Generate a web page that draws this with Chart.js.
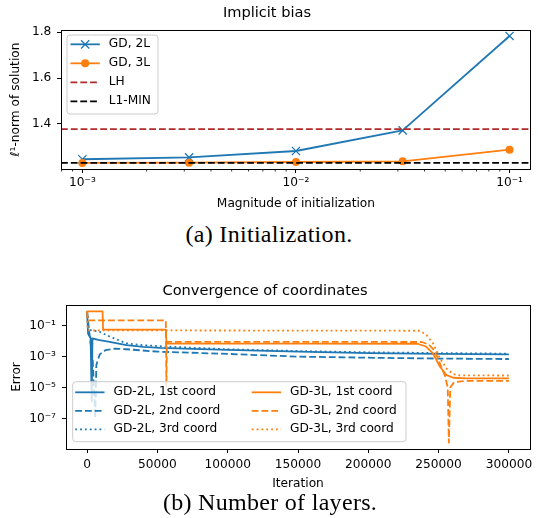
<!DOCTYPE html>
<html>
<head>
<meta charset="utf-8">
<script src="https://cdn.jsdelivr.net/npm/chart.js@4.4.0/dist/chart.umd.min.js"></script>
<style>
  body { margin: 0; background: #fff; width: 538px; height: 518px; position: relative; overflow: hidden; }
  canvas { position: absolute; left: 0; }
  #biasChart { top: 0; }
  #convChart { top: 275px; }
  .caption { position: absolute; font-family: 'Liberation Serif', serif; font-size: 24px; letter-spacing: 0.3px;
             color: #000; white-space: nowrap; transform: translateX(-50%); line-height: 1; }
</style>
</head>
<body>
<canvas id="biasChart" width="538" height="215"></canvas>
<div class="caption" style="left:269px; top:222px">(a) Initialization.</div>
<canvas id="convChart" width="538" height="220"></canvas>
<div class="caption" style="left:270px; top:490px">(b) Number of layers.</div>
<script>
// (a) implicit bias
const initScales = [0.001, 0.00316, 0.01, 0.0316, 0.1];
const normGD2L = [1.245, 1.253, 1.281, 1.371, 1.784];
const normGD3L = [1.229, 1.230, 1.233, 1.236, 1.287];
const normLH = 1.377;
const normL1Min = 1.229;
const biasXTicks = [0.001, 0.01, 0.1];
const biasYTicks = [1.4, 1.6, 1.8];

// (b) convergence of coordinates, error per iteration
const it2L1 = [0, 700, 2500, 3300, 3800, 8000, 16000, 28000, 40000, 52000, 75000, 100000, 150000, 200000, 250000, 300000];
const err2L1 = [0.85, 0.03, 0.016, 1.3e-6, 0.015, 0.012, 0.009, 0.0055, 0.0043, 0.0037, 0.0032, 0.0027, 0.0021, 0.0017, 0.0015, 0.0014];
const it2L2 = [0, 1500, 4000, 5800, 6600, 9000, 13000, 20000, 28000, 50000, 100000, 150000, 200000, 250000, 300000];
const err2L2 = [0.85, 0.04, 6e-4, 1.1e-7, 3e-4, 1.4e-3, 2.6e-3, 3.3e-3, 3.0e-3, 2.1e-3, 1.5e-3, 1.0e-3, 8.5e-4, 7.5e-4, 7e-4];
const it2L3 = [0, 1000, 3000, 9000, 16000, 28000, 40000, 55000, 100000, 150000, 200000, 250000, 300000];
const err2L3 = [0.85, 0.06, 0.05, 0.04, 0.02, 0.0072, 0.0055, 0.0045, 0.003, 0.0023, 0.0019, 0.0017, 0.00155];
const it3L1 = [0, 11000, 11400, 56000, 56500, 150000, 235000, 241000, 246000, 251000, 255700, 260400, 270000, 300000];
const err3L1 = [0.85, 0.85, 0.055, 0.055, 0.007, 0.007, 0.0068, 0.0045, 0.0016, 2.2e-4, 6.3e-5, 4.3e-5, 3.9e-5, 3.9e-5];
const it3L2 = [0, 400, 56000, 56400, 56800, 150000, 238000, 243000, 247000, 251000, 254500, 256500, 257300, 258300, 261000, 270000, 300000];
const err3L2 = [0.85, 0.22, 0.22, 1.2e-5, 0.0091, 0.009, 0.0088, 0.006, 0.0025, 3.5e-4, 6e-5, 1e-5, 2.8e-9, 1e-5, 2.2e-5, 2.7e-5, 2.7e-5];
const it3L3 = [0, 500, 236700, 241400, 246100, 251000, 255600, 260400, 265000, 300000];
const err3L3 = [0.85, 0.05, 0.047, 0.025, 0.007, 7.6e-4, 1.7e-4, 7.4e-5, 6.2e-5, 6e-5];
const convXTicks = [0, 50000, 100000, 150000, 200000, 250000, 300000];
const convYTicks = [1e-7, 1e-5, 1e-3, 1e-1];

const BLUE = '#1f77b4', ORANGE = '#ff7f0e', BROWN = '#b22b2b';
const DASH = [6.8, 3], DOT = [1.85, 3];

Chart.defaults.font.family = "'DejaVu Sans', sans-serif";
Chart.defaults.font.size = 12.2;
Chart.defaults.color = '#000';

const SUP = {'-': '\u207b', '0': '\u2070', '1': '\u00b9', '2': '\u00b2', '3': '\u00b3', '4': '\u2074',
             '5': '\u2075', '6': '\u2076', '7': '\u2077', '8': '\u2078', '9': '\u2079'};
function powerLabel(v) {
  const e = Math.round(Math.log10(v));
  return '10' + String(e).split('').map(c => SUP[c]).join('');
}
function pts(xs, ys) { return xs.map((x, i) => ({x: x, y: ys[i]})); }

// minor ticks for the log axis of (a)
const biasMinorTicks = [];
[1e-4, 1e-3, 1e-2].forEach(d => { for (let k = 2; k <= 9; k++) biasMinorTicks.push(k * d); });

const framePlugin = {
  id: 'frame',
  afterDatasetsDraw(chart) {
    const {ctx, chartArea: a} = chart;
    const al = v => Math.round(v - 0.5) + 0.5;
    ctx.save();
    ctx.strokeStyle = '#000'; ctx.lineWidth = 1; ctx.setLineDash([]);
    ctx.strokeRect(al(a.left), al(a.top), al(a.right) - al(a.left), al(a.bottom) - al(a.top));
    ctx.restore();
  }
};

const minorTickPlugin = {
  id: 'minorTicks',
  afterDraw(chart, args, opts) {
    if (!opts.values) return;
    const sc = chart.scales.x, ctx = chart.ctx, b = Math.round(chart.chartArea.bottom);
    ctx.save(); ctx.strokeStyle = '#000'; ctx.lineWidth = 0.8;
    opts.values.forEach(v => {
      if (v <= sc.min || v >= sc.max) return;
      const x = sc.getPixelForValue(v);
      ctx.beginPath(); ctx.moveTo(x, b); ctx.lineTo(x, b + 2.5); ctx.stroke();
    });
    ctx.restore();
  }
};

// matplotlib-like legend drawn inside the axes
const mplLegend = {
  id: 'mplLegend',
  afterDraw(chart, args, o) {
    if (!o.width) return;
    const ctx = chart.ctx, a = chart.chartArea;
    const x0 = a.left + o.x, y0 = a.top + o.y, r = 3;
    ctx.save();
    ctx.beginPath();
    ctx.moveTo(x0 + r, y0);
    ctx.arcTo(x0 + o.width, y0, x0 + o.width, y0 + o.height, r);
    ctx.arcTo(x0 + o.width, y0 + o.height, x0, y0 + o.height, r);
    ctx.arcTo(x0, y0 + o.height, x0, y0, r);
    ctx.arcTo(x0, y0, x0 + o.width, y0, r);
    ctx.closePath();
    ctx.fillStyle = 'rgba(255,255,255,0.8)'; ctx.fill();
    ctx.strokeStyle = '#cccccc'; ctx.lineWidth = 1; ctx.stroke();
    ctx.font = "12.2px 'DejaVu Sans'";
    ctx.textBaseline = 'middle';
    chart.data.datasets.forEach((ds, i) => {
      const col = Math.floor(i / o.rowsPerCol), row = i % o.rowsPerCol;
      const hx = x0 + o.colX[col], hy = y0 + o.rowY + row * o.rowStep;
      ctx.beginPath();
      ctx.setLineDash(ds.borderDash || []);
      ctx.strokeStyle = ds.borderColor; ctx.lineWidth = ds.borderWidth;
      ctx.moveTo(hx, hy); ctx.lineTo(hx + o.handle, hy); ctx.stroke();
      ctx.setLineDash([]);
      const mx = hx + o.handle / 2, pr = ds.pointRadius || 0;
      if (pr && ds.pointStyle === 'circle') {
        ctx.beginPath(); ctx.arc(mx, hy, pr, 0, Math.PI * 2);
        ctx.fillStyle = ds.pointBackgroundColor; ctx.fill();
      } else if (pr && ds.pointStyle === 'crossRot') {
        const d = pr * Math.SQRT1_2;
        ctx.beginPath(); ctx.lineWidth = ds.pointBorderWidth; ctx.strokeStyle = ds.pointBorderColor;
        ctx.moveTo(mx - d, hy - d); ctx.lineTo(mx + d, hy + d);
        ctx.moveTo(mx - d, hy + d); ctx.lineTo(mx + d, hy - d); ctx.stroke();
      }
      ctx.fillStyle = '#000';
      ctx.fillText(ds.label, hx + o.handle + o.gap, hy);
    });
    ctx.restore();
  }
};

const axisGrid = {drawOnChartArea: false, drawTicks: true, tickLength: 4, tickColor: '#000', tickWidth: 1};
const axisBorder = {display: true, color: '#000', width: 1};

// ---- (a) Implicit bias ----
const biasXMin = Math.pow(10, -3.1), biasXMax = Math.pow(10, -0.9);
new Chart(document.getElementById('biasChart'), {
  type: 'line',
  data: {
    datasets: [
      {label: 'GD, 2L', data: pts(initScales, normGD2L), borderColor: BLUE, borderWidth: 1.8,
       pointStyle: 'crossRot', pointRadius: 5.8, pointHoverRadius: 5.8, pointBorderWidth: 1.3,
       pointBorderColor: BLUE, pointBackgroundColor: BLUE, order: 4},
      {label: 'GD, 3L', data: pts(initScales, normGD3L), borderColor: ORANGE, borderWidth: 1.8,
       pointStyle: 'circle', pointRadius: 4, pointHoverRadius: 4, pointBorderWidth: 0,
       pointBorderColor: ORANGE, pointBackgroundColor: ORANGE, order: 3},
      {label: 'LH', data: [{x: biasXMin, y: normLH}, {x: biasXMax, y: normLH}], borderColor: BROWN,
       borderWidth: 1.8, borderDash: DASH, pointRadius: 0, order: 2},
      {label: 'L1-MIN', data: [{x: biasXMin, y: normL1Min}, {x: biasXMax, y: normL1Min}], borderColor: '#000',
       borderWidth: 1.8, borderDash: DASH, pointRadius: 0, order: 1}
    ]
  },
  options: {
    responsive: false,
    animation: false,
    events: [],
    layout: {padding: {left: 0, right: 4, top: 0, bottom: 0}},
    scales: {
      x: {
        type: 'logarithmic', min: biasXMin, max: biasXMax,
        afterBuildTicks: s => { s.ticks = biasXTicks.map(v => ({value: v})); },
        afterFit: s => { s.height = 46; },
        ticks: {callback: v => powerLabel(v), padding: 3, maxRotation: 0, autoSkip: false, color: '#000'},
        grid: axisGrid, border: axisBorder,
        title: {display: true, text: 'Magnitude of initialization', padding: {top: 0, bottom: 3.9}}
      },
      y: {
        type: 'linear', min: 1.2023, max: 1.81,
        afterBuildTicks: s => { s.ticks = biasYTicks.map(v => ({value: v})); },
        afterFit: s => { s.width = 61; },
        ticks: {callback: v => v.toFixed(1), padding: 5.7, color: '#000'},
        grid: axisGrid, border: axisBorder,
        title: {display: true, text: '\u2113\u00b9-norm of solution', padding: {top: 9, bottom: 0}}
      }
    },
    elements: {line: {tension: 0, borderJoinStyle: 'round', fill: false}},
    plugins: {
      title: {display: true, text: 'Implicit bias', font: {size: 14.6, weight: 'normal'}, padding: {top: 4, bottom: 8.5}},
      legend: {display: false},
      tooltip: {enabled: false},
      minorTicks: {values: biasMinorTicks},
      mplLegend: {x: 6, y: 5, width: 91, height: 79, rowsPerCol: 4, rowY: 9.3, rowStep: 19,
                  colX: [3.5], handle: 29.3, gap: 9}
    }
  },
  plugins: [framePlugin, minorTickPlugin, mplLegend]
});

// ---- (b) Convergence of coordinates ----
const convSeries = [
  {label: 'GD-2L, 1st coord', x: it2L1, y: err2L1, color: BLUE, dash: []},
  {label: 'GD-2L, 2nd coord', x: it2L2, y: err2L2, color: BLUE, dash: DASH},
  {label: 'GD-2L, 3rd coord', x: it2L3, y: err2L3, color: BLUE, dash: DOT},
  {label: 'GD-3L, 1st coord', x: it3L1, y: err3L1, color: ORANGE, dash: []},
  {label: 'GD-3L, 2nd coord', x: it3L2, y: err3L2, color: ORANGE, dash: DASH},
  {label: 'GD-3L, 3rd coord', x: it3L3, y: err3L3, color: ORANGE, dash: DOT}
];
new Chart(document.getElementById('convChart'), {
  type: 'line',
  data: {
    datasets: convSeries.map((s, i) => ({
      label: s.label, data: pts(s.x, s.y), borderColor: s.color, borderWidth: 1.8,
      borderDash: s.dash, pointRadius: 0, pointHoverRadius: 0, order: convSeries.length - i
    }))
  },
  options: {
    responsive: false,
    animation: false,
    events: [],
    layout: {padding: {left: 0, right: 8, top: 0, bottom: 0}},
    scales: {
      x: {
        type: 'linear', min: -15000, max: 315000,
        afterBuildTicks: s => { s.ticks = convXTicks.map(v => ({value: v})); },
        afterFit: s => { s.height = 46; },
        ticks: {callback: v => String(v), padding: 4.5, maxRotation: 0, autoSkip: false, color: '#000'},
        grid: axisGrid, border: axisBorder,
        title: {display: true, text: 'Iteration', padding: {top: 0, bottom: 4.2}}
      },
      y: {
        type: 'logarithmic', min: Math.pow(10, -8.97), max: Math.pow(10, 0.335),
        afterBuildTicks: s => { s.ticks = convYTicks.map(v => ({value: v})); },
        afterFit: s => { s.width = 66; },
        ticks: {callback: v => powerLabel(v), padding: 6, color: '#000'},
        grid: axisGrid, border: axisBorder,
        title: {display: true, text: 'Error', padding: {top: 9.5, bottom: 0}}
      }
    },
    elements: {line: {tension: 0, borderJoinStyle: 'round', fill: false}},
    plugins: {
      title: {display: true, text: 'Convergence of coordinates', font: {size: 14.6, weight: 'normal'},
              padding: {top: 7.5, bottom: 5}},
      legend: {display: false},
      tooltip: {enabled: false},
      mplLegend: {x: 6.7, y: 76.7, width: 333.3, height: 60, rowsPerCol: 3, rowY: 10.6, rowStep: 18.5,
                  colX: [2.5, 179], handle: 29.3, gap: 9}
    }
  },
  plugins: [framePlugin, mplLegend]
});
</script>
</body>
</html>
